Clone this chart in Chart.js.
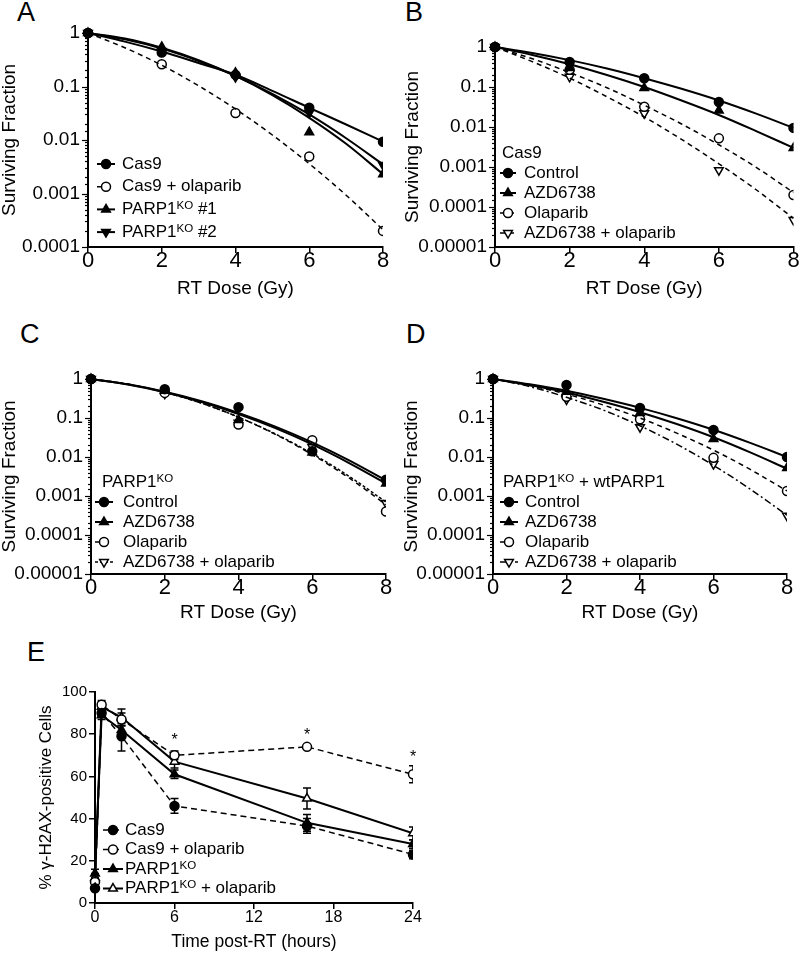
<!DOCTYPE html>
<html>
<head>
<meta charset="utf-8">
<script src="https://cdn.jsdelivr.net/npm/chart.js@4.4.0/dist/chart.umd.min.js"></script>
<style>
  body { margin: 0; background: #fff; width: 800px; height: 953px; position: relative; overflow: hidden;
         font-family: "Liberation Sans", Arial, sans-serif; }
  canvas { position: absolute; }
  .tag { position: absolute; font-size: 27px; line-height: 1; color: #000; }
</style>
</head>
<body>
<div class="tag" style="left:17px;top:-1px">A</div>
<div class="tag" style="left:405px;top:-1px">B</div>
<div class="tag" style="left:20px;top:321px">C</div>
<div class="tag" style="left:406px;top:321px">D</div>
<div class="tag" style="left:27px;top:639px">E</div>

<canvas id="cA" width="400" height="300" style="left:0;top:0"></canvas>
<canvas id="cB" width="400" height="300" style="left:400px;top:0"></canvas>
<canvas id="cC" width="400" height="324" style="left:0;top:300px"></canvas>
<canvas id="cD" width="400" height="324" style="left:400px;top:300px"></canvas>
<canvas id="cE" width="440" height="333" style="left:0;top:620px"></canvas>

<script>
// ---- data ----
const doses = [0, 2, 4, 6, 8];
const fitDoses = [0, 1, 2, 3, 4, 5, 6, 7, 8];
const survTicks = [1, 0.1, 0.01, 0.001, 0.0001, 0.00001];
const survTickLabels = ['1', '0.1', '0.01', '0.001', '0.0001', '0.00001'];

// panel A
const aLabels = ['Cas9', 'Cas9 + olaparib', 'PARP1{KO} #1', 'PARP1{KO} #2'];
const aCas9 = [1, 0.43, 0.165, 0.04, 0.0093];
const aCas9Fit = [1, 0.69, 0.45, 0.275, 0.166, 0.083, 0.040, 0.0195, 0.0093];
const aCas9Ola = [1, 0.26, 0.032, 0.0049, 0.0002];
const aCas9OlaFit = [1, 0.53, 0.25, 0.103, 0.038, 0.0124, 0.0036, 0.00093, 0.00021];
const aKo1 = [1, 0.55, 0.18, 0.014, 0.0023];
const aKo1Fit = [1, 0.79, 0.53, 0.31, 0.158, 0.069, 0.026, 0.0085, 0.0023];
const aKo2 = [1, 0.46, 0.15, 0.032, 0.0034];
const aKo2Fit = [1, 0.76, 0.51, 0.30, 0.158, 0.073, 0.030, 0.0108, 0.0035];

// panels B-D share the treatment names
const drugLabels = ['Control', 'AZD6738', 'Olaparib', 'AZD6738 + olaparib'];
const legendTitles = ['Cas9', 'PARP1{KO}', 'PARP1{KO} + wtPARP1'];

const bCtrl = [1, 0.42, 0.166, 0.042, 0.0095];
const bCtrlFit = [1, 0.71, 0.47, 0.29, 0.166, 0.090, 0.046, 0.0216, 0.0095];
const bAzd = [1, 0.30, 0.094, 0.026, 0.003];
const bAzdFit = [1, 0.63, 0.37, 0.20, 0.10, 0.046, 0.020, 0.0079, 0.003];
const bOla = [1, 0.27, 0.032, 0.0052, 0.0002];
const bOlaFit = [1, 0.51, 0.23, 0.096, 0.035, 0.0119, 0.0036, 0.00098, 0.00023];
const bAzdOla = [1, 0.18, 0.022, 0.00083, 0.000047];
const bAzdOlaFit = [1, 0.43, 0.167, 0.057, 0.0178, 0.0049, 0.0012, 0.00027, 0.000052];

const cCtrl = [1, 0.55, 0.19, 0.014, 0.0026];
const cCtrlFit = [1, 0.73, 0.47, 0.27, 0.135, 0.060, 0.0236, 0.0082, 0.0025];
const cAzd = [1, 0.50, 0.089, 0.013, 0.0021];
const cAzdFit = [1, 0.72, 0.457, 0.257, 0.126, 0.055, 0.021, 0.0070, 0.0021];
const cOla = [1, 0.44, 0.068, 0.027, 0.0004];
const cOlaFit = [1, 0.74, 0.46, 0.24, 0.105, 0.038, 0.0115, 0.0029, 0.0006];
const cAzdOla = [1, 0.42, 0.075, 0.018, 0.00066];
const cAzdOlaFit = [1, 0.73, 0.455, 0.24, 0.105, 0.039, 0.0122, 0.0032, 0.0007];

const dCtrl = [1, 0.70, 0.18, 0.049, 0.01];
const dCtrlFit = [1, 0.73, 0.50, 0.31, 0.182, 0.099, 0.05, 0.023, 0.01];
const dAzd = [1, 0.47, 0.135, 0.029, 0.0052];
const dAzdFit = [1, 0.70, 0.45, 0.26, 0.141, 0.070, 0.032, 0.0131, 0.005];
const dOla = [1, 0.35, 0.093, 0.0095, 0.00135];
const dOlaFit = [1, 0.68, 0.41, 0.215, 0.10, 0.041, 0.015, 0.0048, 0.00135];
const dAzdOla = [1, 0.30, 0.058, 0.0066, 0.00031];
const dAzdOlaFit = [1, 0.64, 0.34, 0.16, 0.063, 0.0213, 0.0061, 0.0015, 0.00032];

// panel E
const eLabels = ['Cas9', 'Cas9 + olaparib', 'PARP1{KO}', 'PARP1{KO} + olaparib'];
const eTimes = [0, 0.5, 2, 6, 16, 24];
const eCas9 = [7, 90, 79, 46, 36.5, 23];
const eCas9Err = [1, 2, 7, 3.5, 3.5, 2];
const eCas9Ola = [10, 94, 87, 70, 74, 61];
const eCas9OlaErr = [2, 2, 3, 2, 0, 4];
const eKo = [14, 89, 82, 61, 38, 28];
const eKoErr = [2, 2, 3, 2, 4, 2];
const eKoOla = [12, 93, 88, 67, 49.5, 33];
const eKoOlaErr = [2, 2, 4, 3, 5, 3];
const starTimes = [6, 16, 24];
const starValues = [79, 81.5, 71];

// ---- drawing helpers ----
const FONT = '"Liberation Sans", Arial, sans-serif';
Chart.defaults.font.family = FONT;
Chart.defaults.color = '#000';

function drawRich(ctx, text, x, y, fs) {
  text.split(/(\{[^}]*\})/).filter(Boolean).forEach(p => {
    const sup = p[0] === '{';
    const t = sup ? p.slice(1, -1) : p;
    ctx.font = (sup ? fs * 0.68 : fs) + 'px ' + FONT;
    ctx.fillText(t, x, sup ? y - fs * 0.2 : y);
    x += ctx.measureText(t).width;
  });
}

const sketchLegend = {
  id: 'sketchLegend',
  afterDraw(chart, args, o) {
    const ctx = chart.ctx;
    ctx.save();
    ctx.fillStyle = '#000';
    ctx.textBaseline = 'middle';
    if (o.title) drawRich(ctx, o.title, o.titleX, o.titleY, o.fontSize);
    chart.data.datasets.filter(d => d.legend).forEach((d, i) => {
      const y = o.y + i * o.dy;
      ctx.strokeStyle = '#000';
      ctx.lineWidth = d.legendWidth;
      ctx.setLineDash(d.legendDash);
      ctx.beginPath();
      ctx.moveTo(o.x0, y);
      ctx.lineTo(o.x1, y);
      ctx.stroke();
      ctx.setLineDash([]);
      ctx.fillStyle = d.pointBackgroundColor;
      ctx.lineWidth = d.pointBorderWidth;
      Chart.helpers.drawPoint(ctx, {
        pointStyle: d.pointStyle, rotation: d.pointRotation || 0,
        radius: d.pointRadius, borderWidth: d.pointBorderWidth
      }, (o.x0 + o.x1) / 2, y);
      ctx.fillStyle = '#000';
      drawRich(ctx, d.label, o.textX, y, o.fontSize);
    });
    ctx.restore();
  }
};

// short minor / long major tick marks on the log axis
const logTicks = {
  id: 'logTicks',
  afterDraw(chart) {
    const s = chart.scales.y;
    if (s.type !== 'logarithmic') return;
    const ctx = chart.ctx;
    ctx.save();
    ctx.strokeStyle = '#000';
    ctx.lineWidth = 1.2;
    s.ticks.forEach(t => {
      const y = Math.round(s.getPixelForValue(t.value)) + 0.5;
      const len = t.major ? 6 : 3;
      ctx.beginPath();
      ctx.moveTo(s.right - len, y);
      ctx.lineTo(s.right, y);
      ctx.stroke();
    });
    ctx.restore();
  }
};

function survLabel(v) {
  const i = survTicks.findIndex(t => Math.abs(Math.log10(t) - Math.log10(v)) < 1e-6);
  return i >= 0 ? survTickLabels[i] : '';
}

const solid = { dash: [], width: 2 };
const dashed = { dash: [5, 4], width: 1.5 };

function series(label, pts, fit, style, open, rot, line) {
  return { label, pts, fit, style, open, rot, line };
}

function survivalChart(id, ymin, box, legend, list) {
  const datasets = [];
  list.forEach(s => {
    datasets.push({
      label: s.label,
      data: s.fit.map((v, i) => ({ x: fitDoses[i], y: v })),
      showLine: true, pointRadius: 0, borderColor: '#000',
      borderWidth: s.line.width, borderDash: s.line.dash,
      tension: 0.4, cubicInterpolationMode: 'monotone',
      clip: { left: 10, top: 10, right: 0, bottom: 10 }
    });
  });
  list.forEach(s => {
    datasets.push({
      label: s.label,
      data: s.pts.map((v, i) => ({ x: doses[i], y: v })),
      showLine: false, pointStyle: s.style, pointRotation: s.rot,
      pointRadius: s.style === 'circle' ? 4.5 : 5,
      pointBackgroundColor: s.open ? '#fff' : '#000',
      pointBorderColor: '#000', pointBorderWidth: 1.5,
      clip: { left: 10, top: 10, right: 0, bottom: 10 },
      legend: true, legendDash: s.line.dash, legendWidth: s.line.width
    });
  });
  return new Chart(document.getElementById(id), {
    type: 'scatter',
    data: { datasets },
    plugins: [sketchLegend, logTicks],
    options: {
      responsive: false, animation: false, events: [],
      layout: { padding: { top: box.top, right: box.right, left: 0, bottom: 0 } },
      plugins: { legend: { display: false }, tooltip: { enabled: false }, sketchLegend: legend },
      scales: {
        x: {
          type: 'linear', min: 0, max: 8,
          ticks: { stepSize: 2, font: { size: 22, lineHeight: 1 }, padding: -3 },
          grid: { drawOnChartArea: false, drawTicks: true, tickLength: 6, color: '#000', lineWidth: 1.5 },
          border: { display: true, color: '#000', width: 2 },
          title: { display: true, text: 'RT Dose (Gy)', font: { size: 19 }, padding: 0 },
          afterFit: s => { s.height = box.xh; }
        },
        y: {
          type: 'logarithmic', min: ymin, max: 1,
          ticks: { autoSkip: false, callback: survLabel, font: { size: 19, lineHeight: 1 }, padding: 8 },
          grid: { display: false, drawTicks: false },
          border: { display: true, color: '#000', width: 2 },
          title: { display: true, text: 'Surviving Fraction', font: { size: 19 }, padding: { top: box.tpad, bottom: 0 } },
          afterFit: s => { s.width = box.yw; }
        }
      }
    }
  });
}

function drugSeries(p, lastDash) {
  return [
    series(drugLabels[0], p[0], p[1], 'circle', false, 0, solid),
    series(drugLabels[1], p[2], p[3], 'triangle', false, 0, solid),
    series(drugLabels[2], p[4], p[5], 'circle', true, 0, dashed),
    series(drugLabels[3], p[6], p[7], 'triangle', true, 180, lastDash)
  ];
}

survivalChart('cA', 0.0001,
  { top: 33, right: 17, xh: 53, yw: 88, tpad: -2 },
  { x0: 97, x1: 115, textX: 122, y: 164, dy: 22.7, fontSize: 17 },
  [
    series(aLabels[0], aCas9, aCas9Fit, 'circle', false, 0, solid),
    series(aLabels[1], aCas9Ola, aCas9OlaFit, 'circle', true, 0, dashed),
    series(aLabels[2], aKo1, aKo1Fit, 'triangle', false, 0, solid),
    series(aLabels[3], aKo2, aKo2Fit, 'triangle', false, 180, solid)
  ]);

survivalChart('cB', 0.00001,
  { top: 47, right: 4, xh: 53, yw: 95, tpad: 1 },
  { x0: 100, x1: 116, textX: 124, y: 173, dy: 20, fontSize: 17, title: legendTitles[0], titleX: 102, titleY: 153 },
  drugSeries([bCtrl, bCtrlFit, bAzd, bAzdFit, bOla, bOlaFit, bAzdOla, bAzdOlaFit], dashed));

survivalChart('cC', 0.00001,
  { top: 79, right: 14, xh: 50, yw: 91, tpad: -2 },
  { x0: 95, x1: 113, textX: 123, y: 202, dy: 20, fontSize: 17, title: legendTitles[1], titleX: 102, titleY: 182 },
  drugSeries([cCtrl, cCtrlFit, cAzd, cAzdFit, cOla, cOlaFit, cAzdOla, cAzdOlaFit], { dash: [3, 2], width: 1.5 }));

survivalChart('cD', 0.00001,
  { top: 79, right: 13, xh: 50, yw: 93, tpad: 0 },
  { x0: 100, x1: 118, textX: 125, y: 202, dy: 20, fontSize: 17, title: legendTitles[2], titleX: 103, titleY: 182 },
  drugSeries([dCtrl, dCtrlFit, dAzd, dAzdFit, dOla, dOlaFit, dAzdOla, dAzdOlaFit], { dash: [7, 3, 2, 3], width: 1.5 }));

// ---- panel E: gamma-H2AX time course ----
const errorBars = {
  id: 'errorBars',
  beforeDatasetsDraw(chart) {
    const ctx = chart.ctx, x = chart.scales.x, y = chart.scales.y, a = chart.chartArea;
    ctx.save();
    ctx.beginPath();
    ctx.rect(a.left - 10, a.top - 10, a.right - a.left + 10, a.bottom - a.top + 20);
    ctx.clip();
    ctx.strokeStyle = '#000';
    ctx.lineWidth = 1.5;
    chart.data.datasets.forEach(d => {
      d.data.forEach((p, i) => {
        const e = d.errors[i];
        if (!e) return;
        const px = x.getPixelForValue(p.x);
        const top = y.getPixelForValue(p.y + e), bot = y.getPixelForValue(p.y - e);
        ctx.beginPath();
        ctx.moveTo(px, top); ctx.lineTo(px, bot);
        ctx.moveTo(px - 4, top); ctx.lineTo(px + 4, top);
        ctx.moveTo(px - 4, bot); ctx.lineTo(px + 4, bot);
        ctx.stroke();
      });
    });
    ctx.restore();
  },
  afterDraw(chart) {
    const ctx = chart.ctx, x = chart.scales.x, y = chart.scales.y;
    ctx.save();
    ctx.fillStyle = '#000';
    ctx.font = '16px ' + FONT;
    ctx.textAlign = 'center';
    ctx.textBaseline = 'alphabetic';
    starTimes.forEach((t, i) => {
      ctx.fillText('*', x.getPixelForValue(t), y.getPixelForValue(starValues[i]) + 9);
    });
    ctx.restore();
  }
};

function timeSet(label, vals, errs, style, open, line) {
  return {
    label, data: vals.map((v, i) => ({ x: eTimes[i], y: v })), errors: errs,
    showLine: true, tension: 0, borderColor: '#000', borderWidth: line.width, borderDash: line.dash,
    pointStyle: style, pointRadius: style === 'circle' ? 4.5 : 5,
    pointBackgroundColor: open ? '#fff' : '#000', pointBorderColor: '#000', pointBorderWidth: 1.5,
    clip: { left: 10, top: 10, right: 0, bottom: 10 },
    legend: true, legendDash: line.dash, legendWidth: line.width
  };
}

const eDashed = { dash: [6, 4], width: 1.5 };
new Chart(document.getElementById('cE'), {
  type: 'scatter',
  data: {
    datasets: [
      timeSet(eLabels[0], eCas9, eCas9Err, 'circle', false, eDashed),
      timeSet(eLabels[1], eCas9Ola, eCas9OlaErr, 'circle', true, eDashed),
      timeSet(eLabels[2], eKo, eKoErr, 'triangle', false, solid),
      timeSet(eLabels[3], eKoOla, eKoOlaErr, 'triangle', true, solid)
    ]
  },
  plugins: [errorBars, sketchLegend],
  options: {
    responsive: false, animation: false, events: [],
    layout: { padding: { top: 72, right: 27, left: 0, bottom: 0 } },
    plugins: {
      legend: { display: false }, tooltip: { enabled: false },
      sketchLegend: { x0: 103, x1: 123, textX: 125, y: 210, dy: 19.5, fontSize: 17 }
    },
    scales: {
      x: {
        type: 'linear', min: 0, max: 24,
        ticks: { stepSize: 6, font: { size: 16, lineHeight: 1 }, padding: 1 },
        grid: { drawOnChartArea: false, drawTicks: true, tickLength: 6, color: '#000', lineWidth: 1.5 },
        border: { display: true, color: '#000', width: 2 },
        title: { display: true, text: 'Time post-RT (hours)', font: { size: 17.5 }, padding: 0 },
        afterFit: s => { s.height = 50; }
      },
      y: {
        type: 'linear', min: 0, max: 100,
        ticks: { stepSize: 20, font: { size: 15, lineHeight: 1 }, padding: 2 },
        grid: { drawOnChartArea: false, drawTicks: true, tickLength: 6, color: '#000', lineWidth: 1.5 },
        border: { display: true, color: '#000', width: 2 },
        title: { display: true, text: '% γ-H2AX-positive Cells', font: { size: 17 }, padding: { top: 36, bottom: 0 } },
        afterFit: s => { s.width = 95; }
      }
    }
  }
});
</script>
</body>
</html>
